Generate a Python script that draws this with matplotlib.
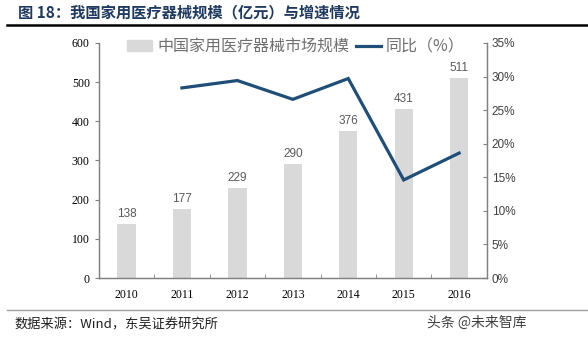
import matplotlib.pyplot as plt
import matplotlib.lines as mlines
import matplotlib.patches as mpatches
from matplotlib.ticker import FuncFormatter, FixedLocator
import numpy as np

plt.rcParams['font.family'] = ['Noto Sans CJK SC', 'DejaVu Sans']

# 数据
years = ['2010', '2011', '2012', '2013', '2014', '2015', '2016']
market_size = [138, 177, 229, 290, 376, 431, 511]          # 亿元
yoy_growth = [None, 28.3, 29.4, 26.6, 29.7, 14.6, 18.6]     # %

bar_color = '#d9d9d9'
line_color = '#1f4e79'
text_grey = '#595959'

fig = plt.figure(figsize=(5.88, 3.38), dpi=100)
ax = fig.add_axes([0.168, 0.1775, 0.66, 0.6955])
ax2 = ax.twinx()

x = np.arange(len(years))
ax.bar(x, market_size, width=0.33, color=bar_color, zorder=1)
for xi, v in zip(x, market_size):
    ax.text(xi, v + 10, str(v), ha='center', va='bottom', fontsize=8.5,
            color=text_grey, family=['Liberation Sans'])

gx = [xi for xi, g in zip(x, yoy_growth) if g is not None]
gy = [g for g in yoy_growth if g is not None]
ax2.plot(gx, gy, color=line_color, linewidth=2.3, solid_joinstyle='miter', zorder=3)

# 坐标轴
ax.set_xlim(-0.5, len(years) - 0.5)
ax.set_ylim(0, 600)
ax.set_yticks(range(0, 601, 100))
ax2.set_ylim(0, 35)
ax2.set_yticks(range(0, 36, 5))
ax2.yaxis.set_major_formatter(FuncFormatter(lambda v, p: f'{int(v)}%'))

ax.set_xticks(x)
ax.set_xticklabels(years, family=['Liberation Serif'], fontsize=8.5)
ax.tick_params(axis='x', length=0, pad=8)
ax.xaxis.set_minor_locator(FixedLocator(np.arange(0.5, len(years) - 1, 1)))
ax.tick_params(axis='x', which='minor', direction='in', length=3, color='#808080')

ax.tick_params(axis='y', direction='out', length=3, color='#808080', labelsize=8.5)
for lab in ax.get_yticklabels():
    lab.set_family(['Liberation Serif'])
ax2.tick_params(axis='y', direction='in', length=3, color='#808080', labelsize=8.5,
                labelcolor='#404040')
for lab in ax2.get_yticklabels():
    lab.set_family(['Liberation Sans'])

for a in (ax, ax2):
    a.spines['top'].set_visible(False)
    for s in ('left', 'right', 'bottom'):
        a.spines[s].set_color('#808080')
        a.spines[s].set_linewidth(0.9)
ax.set_zorder(ax2.get_zorder() - 1)
ax2.patch.set_visible(False)
ax.patch.set_visible(True)

# 图例
handles = [mpatches.Patch(color=bar_color, label='中国家用医疗器械市场规模'),
           mlines.Line2D([], [], color=line_color, linewidth=2.3, label='同比（%）')]
leg = fig.legend(handles=handles, loc='center', bbox_to_anchor=(0.503, 0.862), ncol=2,
                 frameon=False, fontsize=11.5, handlelength=1.6, handleheight=0.6,
                 handletextpad=0.3, columnspacing=0.4, labelcolor='#707070')

# 标题和来源
fig.text(0.03, 0.963, '图 18：我国家用医疗器械规模（亿元）与增速情况', fontsize=11,
         fontweight='bold', color='#1f3a60', va='center', ha='left')
fig.add_artist(mlines.Line2D([0.012, 1.0], [0.926, 0.926], color='black', linewidth=1.8))
fig.add_artist(mlines.Line2D([0.012, 1.0], [0.083, 0.083], color='#a0a0a0', linewidth=1.0))
fig.text(0.025, 0.038, '数据来源：Wind，东吴证券研究所', fontsize=9.5, color='#202020',
         va='center', ha='left')
fig.text(0.81, 0.045, '头条 @未来智库', fontsize=10, color='#404040',
         va='center', ha='center')

fig.savefig('out.png', dpi=100)
